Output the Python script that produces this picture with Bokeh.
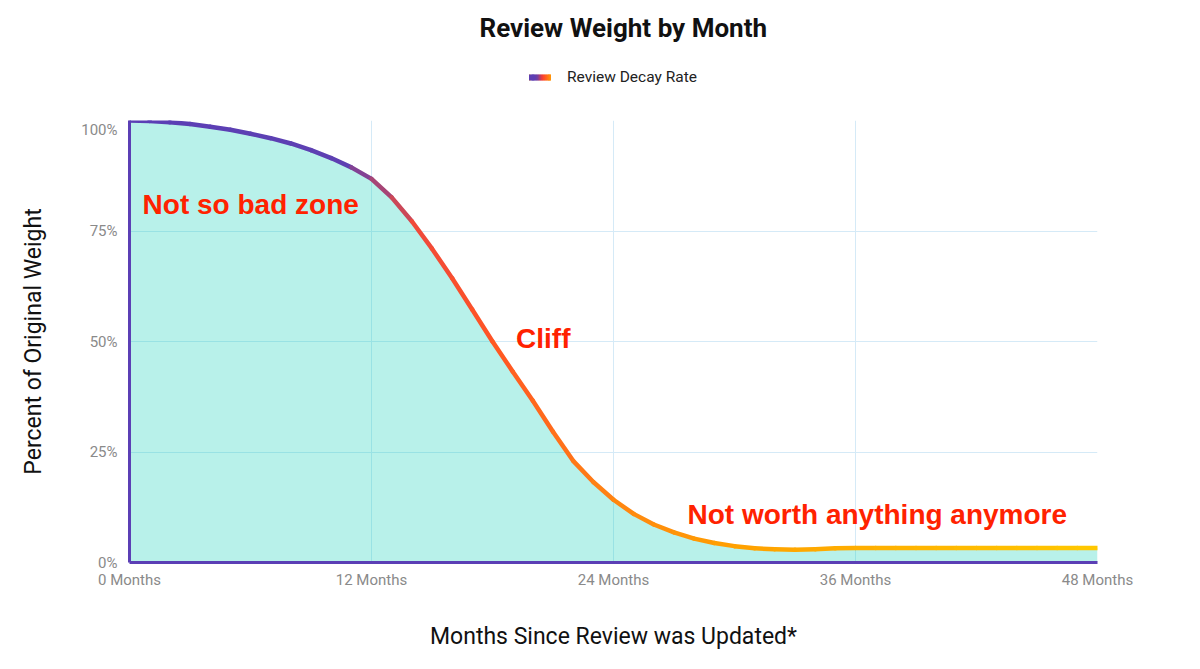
from bokeh.plotting import figure
from bokeh.models import (Legend, LegendItem, Range1d, ColumnDataSource)
from bokeh.layouts import column
from bokeh.core.properties import value
from bokeh.embed import file_html
from bokeh.resources import INLINE

# ---------------- data ----------------
months = list(range(0, 49))
weight = [100.0, 99.9, 99.6, 99.2, 98.6, 97.9, 97.0, 96.0, 94.8, 93.3,
          91.5, 89.4, 86.8, 82.6, 77.2, 71.0, 64.3, 57.2, 50.0, 43.2,
          36.6, 29.6, 23.0, 18.2, 14.2, 11.0, 8.6, 6.8, 5.4, 4.4,
          3.7, 3.2, 3.0, 2.9, 3.0, 3.2, 3.3, 3.3, 3.3, 3.3,
          3.3, 3.3, 3.3, 3.3, 3.3, 3.3, 3.3, 3.3, 3.3]
series_name = "Review Decay Rate"

x_ticks = [0, 12, 24, 36, 48]
x_tick_labels = ["0 Months", "12 Months", "24 Months", "36 Months", "48 Months"]
y_ticks = [0, 25, 50, 75, 100]
y_tick_labels = ["0%", "25%", "50%", "75%", "100%"]

annot_text = ["Not so bad zone", "Cliff", "Not worth anything anymore"]
annot_x = [0.65, 19.17, 27.67]
annot_y = [81.0, 50.6, 10.9]

title_text = "Review Weight by Month"
x_label = "Months Since Review was Updated*"
y_label = "Percent of Original Weight"

# ---------------- styles ----------------
PURPLE = "#5b3fb5"
line_stops = [(0, "#5b3fb5"), (10.5, "#5d40b2"), (14.5, "#f04a3a"), (18, "#ff5524"),
              (24, "#ff8512"), (30, "#ffa000"), (48, "#ffc800")]
legend_stops = [(0, "#5b3fb5"), (0.3, "#6a3fa8"), (0.55, "#ff3d2e"), (1, "#ffa800")]


def hex2rgb(h):
    return tuple(int(h[i:i + 2], 16) for i in (1, 3, 5))


def grad(stops, t):
    for (t0, c0), (t1, c1) in zip(stops, stops[1:]):
        if t <= t1:
            f = (t - t0) / (t1 - t0) if t1 > t0 else 0
            a, b = hex2rgb(c0), hex2rgb(c1)
            return "#%02x%02x%02x" % tuple(round(a[k] + (b[k] - a[k]) * f) for k in range(3))
    return stops[-1][1]


W = 1184
LEFT, RIGHT = 129, 87
TOP_H, MAIN_H = 120, 533

# ---------------- header figure: title + legend ----------------
top = figure(width=W, height=TOP_H, x_range=Range1d(0, 1), y_range=Range1d(0, 1),
             x_axis_type=None, y_axis_type=None, output_backend="svg",
             toolbar_location=None, title=title_text,
             min_border_left=LEFT, min_border_right=RIGHT, min_border_top=47,
             min_border_bottom=13)
top.outline_line_color = None
top.border_fill_color = "white"
top.background_fill_color = "white"
top.title.align = "left"
top.title.offset = 350
top.title.text_font = "Roboto"
top.title.text_font_size = "26px"
top.title.text_font_style = "bold"
top.title.text_color = "#111111"

# gradient legend swatch built from short pieces (no visible data of their own)
N = 11
nan = float("nan")
pieces = []
for i in reversed(range(N)):
    c = grad(legend_stops, (i + 0.5) / N)
    cap = "round" if i in (0, N - 1) else "butt"
    r = top.line(x=[nan], y=[nan], line_color=c, line_width=6, line_cap=cap,
                 line_dash="0 %d 3 300" % (2 * i))
    pieces.append(r)

legend = Legend(items=[LegendItem(label=series_name, renderers=pieces)],
                orientation="horizontal", location="center",
                border_line_color=None, background_fill_alpha=0,
                glyph_width=22, glyph_height=20, label_height=20, label_standoff=16,
                label_text_font="Roboto", label_text_font_size="15.5px",
                label_text_color="#222222", margin=0, padding=0)
top.add_layout(legend)

# ---------------- main figure ----------------
p = figure(width=W, height=MAIN_H,
           x_range=Range1d(x_ticks[0], x_ticks[-1]), y_range=Range1d(y_ticks[0], y_ticks[-1]),
           output_backend="svg", toolbar_location=None,
           min_border_left=LEFT, min_border_right=RIGHT, min_border_top=0,
           min_border_bottom=MAIN_H - 442)
p.outline_line_color = None
p.background_fill_color = "white"
p.border_fill_color = "white"

p.xgrid.ticker = x_ticks
p.ygrid.ticker = y_ticks
for g in (p.xgrid, p.ygrid):
    g.grid_line_color = "#d5eaf7"
    g.grid_line_width = 1

p.varea(x=months, y1=[0] * len(months), y2=weight, fill_color="#00ccb4", fill_alpha=0.28)

seg_colors = [grad(line_stops, (a + b) / 2) for a, b in zip(months[:-1], months[1:])]
seg_src = ColumnDataSource(dict(x0=months[:-1], y0=weight[:-1], x1=months[1:], y1=weight[1:],
                                c=seg_colors))
p.segment(x0="x0", y0="y0", x1="x1", y1="y1", line_color="c", line_width=4.5,
          line_cap="round", source=seg_src)

ann_src = ColumnDataSource(dict(x=annot_x, y=annot_y, t=annot_text))
p.text(x="x", y="y", text="t", source=ann_src, text_font=value("Liberation Sans"),
       text_font_size="28px", text_font_style="bold", text_color="#ff2200",
       text_align="left", text_baseline="alphabetic")

for ax in (p.xaxis, p.yaxis):
    ax.axis_line_color = PURPLE
    ax.axis_line_width = 3
    ax.major_tick_line_color = None
    ax.minor_tick_line_color = None
    ax.major_label_text_font = "Roboto"
    ax.major_label_text_font_size = "15px"
    ax.major_label_text_color = "#8a8a8a"
    ax.axis_label_text_font = "Roboto"
    ax.axis_label_text_font_size = "23px"
    ax.axis_label_text_font_style = "normal"
    ax.axis_label_text_color = "#111111"

p.xaxis.ticker = x_ticks
p.xaxis.major_label_overrides = dict(zip(x_ticks, x_tick_labels))
p.xaxis.major_label_standoff = 2
p.xaxis.axis_label = x_label
p.xaxis.axis_label_standoff = 31

p.yaxis.ticker = y_ticks
p.yaxis.major_label_overrides = dict(zip(y_ticks, y_tick_labels))
p.yaxis.major_label_standoff = 6
p.yaxis.axis_label = y_label
p.yaxis.axis_label_standoff = 31

layout = column(top, p, spacing=0)
open("out.html", "w").write(file_html(layout, INLINE))
